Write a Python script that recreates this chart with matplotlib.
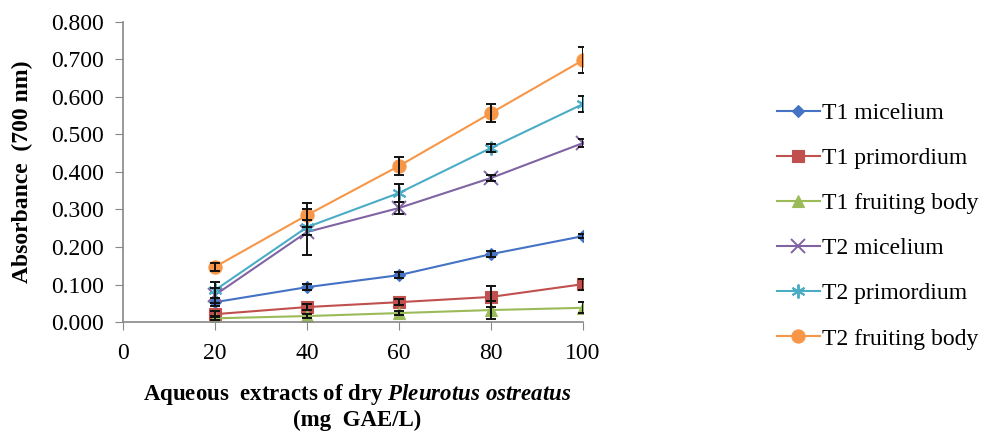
import matplotlib
matplotlib.use("Agg")
import matplotlib.pyplot as plt

x_vals = [20, 40, 60, 80, 100]
series_names = ["T1 micelium", "T1 primordium", "T1 fruiting body",
                "T2 micelium", "T2 primordium", "T2 fruiting body"]
t1_micelium = [0.053, 0.093, 0.125, 0.181, 0.229]
t1_primordium = [0.021, 0.040, 0.053, 0.067, 0.101]
t1_fruiting = [0.010, 0.016, 0.024, 0.032, 0.038]
t2_micelium = [0.072, 0.240, 0.304, 0.384, 0.477]
t2_primordium = [0.085, 0.253, 0.344, 0.464, 0.581]
t2_fruiting = [0.147, 0.285, 0.416, 0.557, 0.698]

err_t1_micelium = [0.010, 0.008, 0.008, 0.008, 0.006]
err_t1_primordium = [0.008, 0.008, 0.008, 0.028, 0.015]
err_t1_fruiting = [0.005, 0.005, 0.006, 0.025, 0.015]
err_t2_micelium = [0.020, 0.062, 0.015, 0.008, 0.010]
err_t2_primordium = [0.022, 0.020, 0.025, 0.010, 0.022]
err_t2_fruiting = [0.010, 0.032, 0.025, 0.025, 0.035]

y_ticks = [0.0, 0.1, 0.2, 0.3, 0.4, 0.5, 0.6, 0.7, 0.8]
x_ticks = [0, 20, 40, 60, 80, 100]

plt.rcParams['font.family'] = ['Liberation Serif', 'DejaVu Serif']
plt.rcParams['mathtext.fontset'] = 'custom'
plt.rcParams['mathtext.it'] = 'Liberation Serif:italic:bold'
plt.rcParams['mathtext.rm'] = 'Liberation Serif:bold'
plt.rcParams['mathtext.bf'] = 'Liberation Serif:bold'

values = [t1_micelium, t1_primordium, t1_fruiting, t2_micelium, t2_primordium, t2_fruiting]
errors = [err_t1_micelium, err_t1_primordium, err_t1_fruiting, err_t2_micelium, err_t2_primordium, err_t2_fruiting]
colors = ["#4472C4", "#C0504D", "#9BBB59", "#8064A2", "#4BACC6", "#F79646"]
markers = ["D", "s", "^", "x", (6, 2, 0), "o"]
msizes = [6.5, 8.5, 8.5, 9.5, 10, 9.5]

fig = plt.figure(figsize=(10, 4.37), dpi=100)
ax = fig.add_axes([0.123, 0.263, 0.46, 0.687])

for name, v, e, c, m, ms in zip(series_names, values, errors, colors, markers, msizes):
    ax.errorbar(x_vals, v, yerr=e, fmt='none', ecolor='#111111', elinewidth=1.4,
                capsize=3.5, capthick=1.4, zorder=3)
    ax.plot(x_vals, v, color=c, marker=m, markersize=ms, linewidth=1.5,
            markeredgewidth=1.4 if m in ("x", (6, 2, 0)) else 0.8,
            markeredgecolor=c, label=name, zorder=2)

ax.set_xlim(0, 100)
ax.set_ylim(0, 0.8)
ax.set_xticks(x_ticks)
ax.set_yticks(y_ticks)
ax.set_yticklabels([f"{t:.3f}" for t in y_ticks])
ax.tick_params(axis='both', labelsize=17, color='#888888', length=6, direction='out')
ax.tick_params(axis='y', pad=8)
ax.tick_params(axis='x', pad=9)
for s in ['top', 'right']:
    ax.spines[s].set_visible(False)
for s in ['left', 'bottom']:
    ax.spines[s].set_color('#888888')
    ax.spines[s].set_linewidth(1.2)

ax.set_xlabel("Aqueous  extracts of dry $\\mathit{Pleurotus\\ ostreatus}$\n(mg  GAE/L)",
              fontsize=16.5, fontweight='bold', labelpad=10, linespacing=1.15)
ax.xaxis.set_label_coords(0.51, -0.2)
ax.xaxis.label.set_va('top')
ax.set_ylabel("Absorbance  (700 nm)", fontsize=17, fontweight='bold', labelpad=13)

fig.legend(*ax.get_legend_handles_labels(), loc='center left',
           bbox_to_anchor=(0.777, 0.483), frameon=False, fontsize=17,
           handlelength=1.8, labelspacing=1.0, handletextpad=0.1,
           borderaxespad=0, borderpad=0)

fig.savefig("out.png", dpi=100)
